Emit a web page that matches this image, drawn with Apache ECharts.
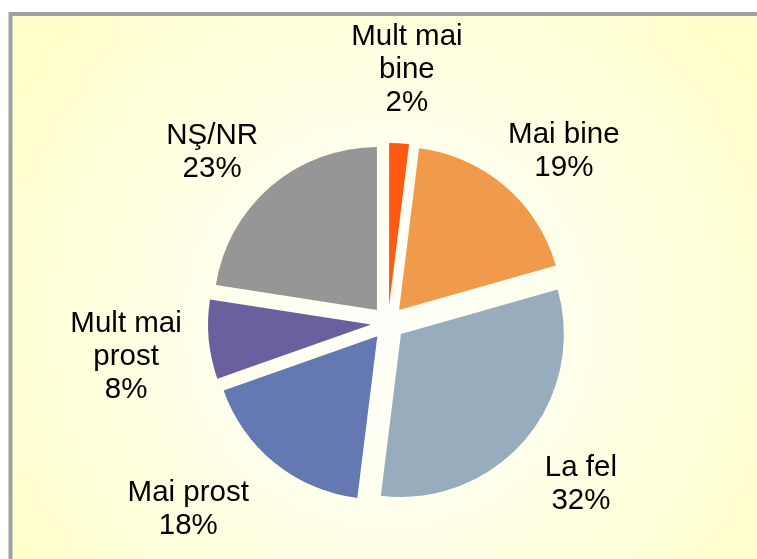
<!DOCTYPE html>
<html>
<head>
<meta charset="utf-8">
<script src="https://cdn.jsdelivr.net/npm/echarts@6/dist/echarts.min.js"></script>
<style>
  html, body { margin: 0; padding: 0; background: #fff; }
  #chart { width: 757px; height: 559px; }
</style>
</head>
<body>
<div id="chart"></div>
<script>
// values (percent)
const categories = ["Mult mai bine", "Mai bine", "La fel", "Mai prost", "Mult mai prost", "NŞ/NR"];
const labelNames = ["Mult mai\nbine", "Mai bine", "La fel", "Mai prost", "Mult mai\nprost", "NŞ/NR"];
const percents = [2, 19, 32, 18, 8, 23];
const colors = ["#FF5A14", "#F09A4B", "#97ADBD", "#6479B2", "#6B609E", "#969696"];
// small label nudges (like Excel's best-fit placement)
const labelShift = [[3, 4], [8, 24], [-3, -7], [-38, -15], [-5, 10], [-8, 25]];

const chart = echarts.init(document.getElementById("chart"));

const pieData = categories.map(function (name, i) {
  return { name: name, value: percents[i], selected: true, itemStyle: { color: colors[i] } };
});
const labelData = categories.map(function (name, i) {
  return { name: labelNames[i], value: percents[i] };
});

chart.setOption({
  backgroundColor: "#fff",
  animation: false,
  graphic: [
    {
      type: "rect",
      silent: true,
      z: 0,
      shape: { x: 10.5, y: 14, width: 800, height: 600 },
      style: {
        stroke: "#A0A0A0",
        lineWidth: 4,
        fill: {
          type: "radial",
          global: true,
          x: 388,
          y: 323,
          r: 430,
          colorStops: [
            { offset: 0, color: "#FFFFFA" },
            { offset: 0.35, color: "#FFFFF0" },
            { offset: 1, color: "#FFFFCC" }
          ]
        }
      }
    }
  ],
  series: [
    {
      type: "pie",
      center: [388, 323],
      radius: 163,
      startAngle: 90,
      clockwise: true,
      selectedMode: "multiple",
      selectedOffset: 17,
      silent: true,
      label: { show: false },
      labelLine: { show: false },
      select: { itemStyle: { borderWidth: 0 } },
      data: pieData
    },
    {
      // invisible ring, used only to place the labels
      type: "pie",
      center: [388, 323],
      radius: [230, 280],
      startAngle: 90,
      clockwise: true,
      silent: true,
      itemStyle: { color: "rgba(0,0,0,0)" },
      label: {
        show: true,
        position: "inside",
        formatter: "{b}\n{c}%",
        fontFamily: "Liberation Sans, Arial, sans-serif",
        fontSize: 29.5,
        lineHeight: 33,
        color: "#000",
        align: "center"
      },
      labelLine: { show: false },
      labelLayout: function (params) {
        const s = labelShift[params.dataIndex];
        return { dx: s[0], dy: s[1] };
      },
      data: labelData
    }
  ]
});
</script>
</body>
</html>
